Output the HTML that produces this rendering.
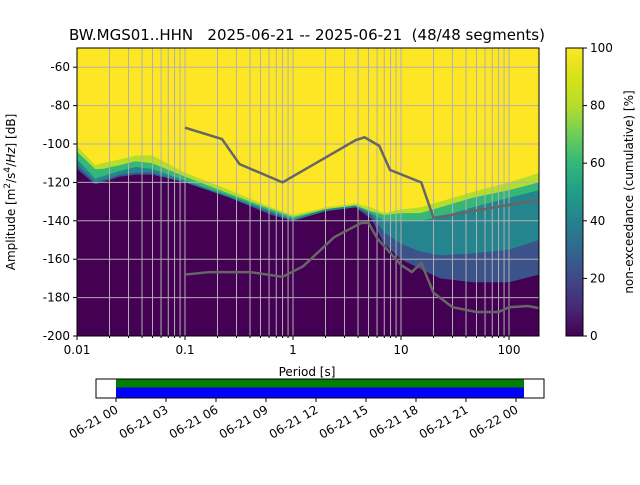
<!DOCTYPE html>
<html><head><meta charset="utf-8"><style>
body{margin:0;background:#fff;font-family:"Liberation Sans","DejaVu Sans",sans-serif}
svg text{font-family:"DejaVu Sans","Liberation Sans",sans-serif}
</style></head><body>
<svg id="c" width="640" height="480" viewBox="0 0 640 480" xmlns="http://www.w3.org/2000/svg">
<defs>
<linearGradient id="vir" x1="0" y1="1" x2="0" y2="0">
<stop offset="0" stop-color="#440154"/><stop offset="0.1" stop-color="#482878"/><stop offset="0.2" stop-color="#3e4989"/><stop offset="0.3" stop-color="#31688e"/><stop offset="0.4" stop-color="#26828e"/><stop offset="0.5" stop-color="#1f9e89"/><stop offset="0.6" stop-color="#35b779"/><stop offset="0.7" stop-color="#6ece58"/><stop offset="0.8" stop-color="#b5de2b"/><stop offset="0.9" stop-color="#d8e219"/><stop offset="1" stop-color="#fde725"/>
</linearGradient>
<clipPath id="pc"><rect x="77" y="48" width="462" height="288"/></clipPath>
</defs>
<text x="307" y="40" font-size="15" text-anchor="middle" xml:space="preserve">BW.MGS01..HHN   2025-06-21 -- 2025-06-21  (48/48 segments)</text>
<g id="plot" clip-path="url(#pc)"></g>
<g id="axes"></g>
</svg>
<script>
const periods=[0.01,0.0147,0.017,0.025,0.035,0.05,0.1,0.26,0.63,1,2,3.8,5.3,7,10,15,23,46,100,190];
const edgeTop=[-101,-111,-110,-108,-106,-106,-115,-124,-133,-137,-133,-131,-133,-136,-134,-133,-130,-125,-120,-115];
const p90=[-104,-113,-113,-111,-109,-110,-117,-126,-134,-138,-134,-132,-135,-137,-136,-136,-133,-128,-124,-120];
const p70=[-108,-118,-117,-114,-112,-113,-119,-127,-135,-139,-134,-132,-136,-140,-140,-140,-138,-133,-128,-124];
const p40=[-111,-120,-119,-116,-115,-115,-120,-128,-136,-140,-135,-133,-137,-146,-152,-156,-158,-157,-155,-150];
const p15=[-113,-121,-120,-117,-116,-116,-120,-128,-137,-140,-135,-133,-139,-152,-160,-165,-170,-172,-172,-168];
const nhnmP=[0.1,0.22,0.32,0.8,3.8,4.6,6.3,7.9,15.4,20,190];
const nhnmV=[-91.5,-97.4,-110.5,-120,-98,-96.5,-101,-113.5,-120,-138.5,-129];
const nlnmP=[0.1,0.17,0.4,0.8,1.24,2.4,4.3,5,6,10,12.6,15.4,20,30,50,80,100,150,190];
const nlnmV=[-168,-166.7,-166.7,-169.2,-163.7,-148.6,-141.1,-141,-149,-163,-166.7,-162,-177.5,-185,-187.5,-187.5,-185,-184.4,-185.5];
const yTicks=[-60,-80,-100,-120,-140,-160,-180,-200];
const xTickLabels=["0.01","0.1","1","10","100"];
const cbTicks=[0,20,40,60,80,100];
const timeLabels=["06-21 00","06-21 03","06-21 06","06-21 09","06-21 12","06-21 15","06-21 18","06-21 21","06-22 00"];
const NS="http://www.w3.org/2000/svg";
const X=p=>77+108*(Math.log10(p)+2);
const Y=v=>336-(v+200)*1.92;
function mk(t,a,par){const e=document.createElementNS(NS,t);for(const k in a)e.setAttribute(k,a[k]);par.appendChild(e);return e;}
const plot=document.getElementById('plot'),axes=document.getElementById('axes');
let bg=mk('rect',{x:77,y:48,width:462,height:288,fill:'#fde725'},plot);


const layers=[[edgeTop,'#b5de2b','band-p100'],[p90,'#35b779','band-p90'],[p70,'#25858e','band-p70'],[p40,'#3b528b','band-p40'],[p15,'#440154','band-p15']];
layers.forEach(([arr,col,nm])=>{
 let d='M'+X(periods[0])+','+Y(arr[0]);
 for(let i=1;i<periods.length;i++)d+=' L'+X(periods[i])+','+Y(arr[i]);
 d+=' L'+X(periods[periods.length-1])+',340 L'+X(periods[0])+',340 Z';
 const p=mk('path',{d:d,fill:col},plot);
 
 
});
for(let dec=-2;dec<=2;dec++)for(let m=1;m<10;m++){const x=X(m*Math.pow(10,dec));if(x>539)continue;
 const l=mk('line',{x1:x,x2:x,y1:48,y2:336,stroke:'#b0b0b0','stroke-width':1},plot);
 
 }
yTicks.forEach(v=>{const l=mk('line',{x1:77,x2:539,y1:Y(v),y2:Y(v),stroke:'#b0b0b0','stroke-width':1},plot);
 
 });
function line(P,V,nm){let d='';P.forEach((p,i)=>d+=(i?' L':'M')+X(p)+','+Y(V[i]));
 const e=mk('path',{d:d,fill:'none',stroke:'#666','stroke-width':2.5},plot);
 
 }
line(nhnmP,nhnmV,'nhnm-line');line(nlnmP,nlnmV,'nlnm-line');
let fr=mk('rect',{x:77,y:48,width:462,height:288,fill:'none',stroke:'#000','stroke-width':1},axes);


yTicks.forEach(v=>{mk('line',{x1:73,x2:77,y1:Y(v),y2:Y(v),stroke:'#000'},axes);
 const t=mk('text',{x:70,y:Y(v)+4,'font-size':12,'text-anchor':'end'},axes);t.textContent=v;
 
 });
xTickLabels.forEach(s=>{const x=X(parseFloat(s));mk('line',{x1:x,x2:x,y1:336,y2:340,stroke:'#000'},axes);
 const t=mk('text',{x:x,y:354,'font-size':12,'text-anchor':'middle'},axes);t.textContent=s;
 
 });
for(let dec=-2;dec<=2;dec++)for(let m=2;m<10;m++){const x=X(m*Math.pow(10,dec));if(x>539)continue;mk('line',{x1:x,x2:x,y1:336,y2:338,stroke:'#000'},axes);}
let xt=mk('text',{x:307,y:376,'font-size':12,'text-anchor':'middle'},axes);xt.textContent='Period [s]';


let yt=mk('text',{x:0,y:0,'font-size':12,'text-anchor':'middle',transform:'translate(15,192) rotate(-90)'},axes);
yt.innerHTML='Amplitude [m<tspan baseline-shift="super" font-size="9">2</tspan>/s<tspan baseline-shift="super" font-size="9">4</tspan>/<tspan font-style="italic">Hz</tspan>] [dB]';


let cb=mk('rect',{x:566,y:48,width:17,height:288,fill:'url(#vir)',stroke:'#000','stroke-width':1},axes);


cbTicks.forEach(v=>{const y=336-v*2.88;mk('line',{x1:583,x2:587,y1:y,y2:y,stroke:'#000'},axes);
 const t=mk('text',{x:590,y:y+4,'font-size':12},axes);t.textContent=v;
 
 });
let ct=mk('text',{x:0,y:0,'font-size':12,'text-anchor':'middle',transform:'translate(633,192) rotate(-90)'},axes);ct.textContent='non-exceedance (cumulative) [%]';


let tb=mk('rect',{x:96,y:379,width:448,height:19,fill:'#fff',stroke:'#000'},axes);


let g1=mk('rect',{x:116,y:379.5,width:408,height:8,fill:'#008000'},axes);


let b1=mk('rect',{x:116,y:387.5,width:408,height:10,fill:'#0000ff'},axes);


timeLabels.forEach((s,i)=>{const x=116+50*i;mk('line',{x1:x,x2:x,y1:398,y2:402,stroke:'#000'},axes);
 const t=mk('text',{x:0,y:0,'font-size':12,'text-anchor':'end',transform:`translate(${x+3},${412}) rotate(-30)`},axes);t.textContent=s;
 
 });
</script>
</body></html>
